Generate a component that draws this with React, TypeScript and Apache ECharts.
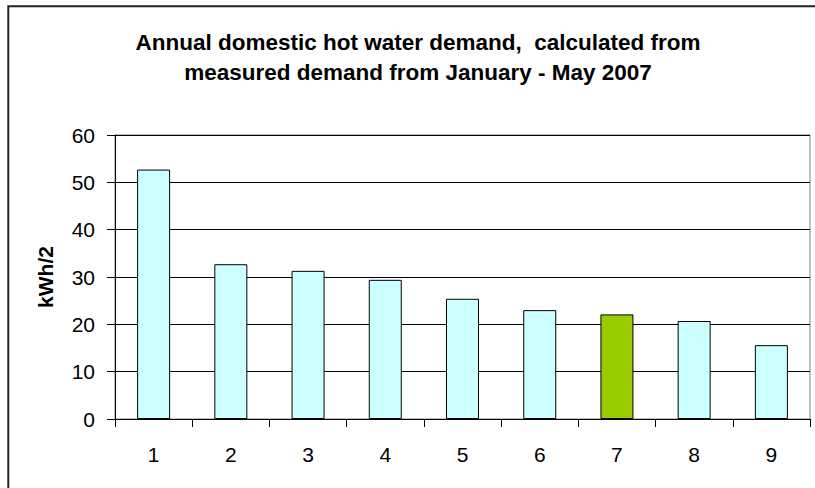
import React, { useEffect, useRef } from "react";
import * as echarts from "echarts";

const categories = ["1", "2", "3", "4", "5", "6", "7", "8", "9"];
const demandValues = [52.7, 32.7, 31.3, 29.4, 25.4, 23.0, 22.1, 20.7, 15.6];
const highlightIndex = 6;
const titleLines = [
  "Annual domestic hot water demand,  calculated from",
  "measured demand from January - May 2007",
];
const yAxisTitle = "kWh/2";

const FONT = "'Liberation Sans', Arial, Helvetica, sans-serif";

export default function App() {
  const ref = useRef<HTMLDivElement>(null);
  useEffect(() => {
    if (!ref.current) return;
    const chart = echarts.init(ref.current, undefined, { renderer: "svg" });
    chart.setOption({
      animation: false,
      backgroundColor: "#ffffff",
      graphic: [
        {
          type: "rect",
          shape: { x: 8.3, y: 6.3, width: 900, height: 600 },
          style: { fill: "none", stroke: "#222", lineWidth: 2 },
          silent: true,
        },
        {
          type: "text",
          x: 418,
          y: 42,
          style: {
            text: titleLines[0],
            font: `bold 22.5px ${FONT}`,
            fill: "#000",
            textAlign: "center",
            textVerticalAlign: "middle",
          },
        },
        {
          type: "text",
          x: 418,
          y: 72,
          style: {
            text: titleLines[1],
            font: `bold 22.5px ${FONT}`,
            fill: "#000",
            textAlign: "center",
            textVerticalAlign: "middle",
          },
        },
      ],
      grid: {
        left: 115,
        top: 135,
        right: 5,
        bottom: 69,
        show: true,
        borderColor: "#808080",
        borderWidth: 1,
        backgroundColor: "#ffffff",
      },
      xAxis: {
        type: "category",
        data: categories,
        axisLine: { lineStyle: { color: "#000", width: 1 } },
        axisTick: { show: true, length: 8, lineStyle: { color: "#000" } },
        axisLabel: {
          color: "#000",
          fontFamily: FONT,
          fontSize: 21,
          margin: 25,
        },
      },
      yAxis: {
        type: "value",
        min: 0,
        max: 60,
        interval: 10,
        name: yAxisTitle,
        nameLocation: "middle",
        nameRotate: 90,
        nameGap: 59,
        nameTextStyle: {
          color: "#000",
          fontFamily: FONT,
          fontSize: 21,
          fontWeight: "bold",
        },
        axisLine: { show: true, lineStyle: { color: "#000", width: 1 } },
        axisTick: { show: true, length: 8, lineStyle: { color: "#000" } },
        axisLabel: {
          color: "#000",
          fontFamily: FONT,
          fontSize: 21,
          margin: 20,
        },
        splitLine: { show: true, lineStyle: { color: "#000", width: 1 } },
      },
      series: [
        {
          type: "bar",
          barWidth: 33,
          data: demandValues.map((v, i) => ({
            value: v,
            itemStyle: {
              color: i === highlightIndex ? "#99CC00" : "#CCFFFF",
              borderColor: "#000",
              borderWidth: 1,
            },
          })),
        },
      ],
    });
    return () => chart.dispose();
  }, []);
  return (
    <div
      ref={ref}
      style={{ position: "fixed", left: 0, top: 0, width: 815, height: 488 }}
    />
  );
}
